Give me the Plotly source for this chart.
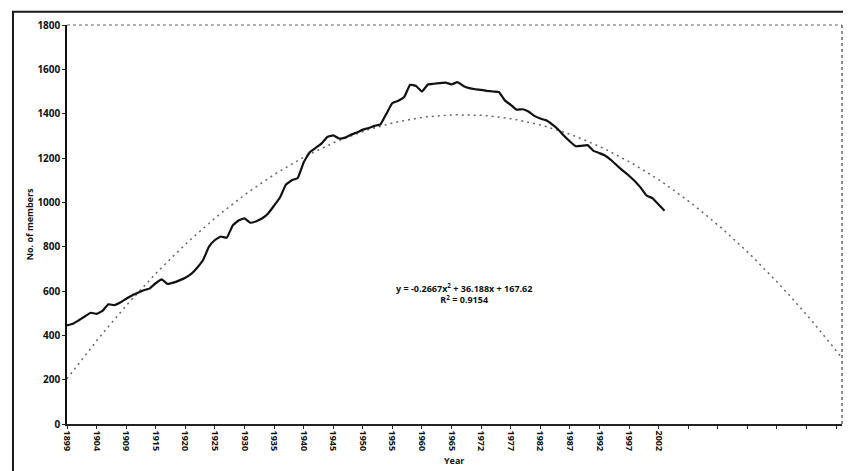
import plotly.graph_objects as go

# ---- data ----
years = ([str(y) for y in range(1899, 1910)] +
         [str(y) for y in range(1911, 1966)] +
         [str(y) for y in range(1968, 2004)])

members = [445, 452, 468, 485, 502, 497, 510, 540, 536, 548,
           565, 580, 592, 603, 612, 635, 652, 632, 638, 648,
           660, 677, 705, 740, 800, 830, 846, 840, 895, 918,
           928, 908, 915, 928, 950, 985, 1022, 1080, 1100, 1110,
           1180, 1225, 1245, 1265, 1295, 1302, 1288, 1292, 1305, 1315,
           1328, 1335, 1345, 1352, 1400, 1448, 1458, 1475, 1530, 1525,
           1500, 1532, 1535, 1538, 1540, 1532, 1542, 1525, 1515, 1510,
           1507, 1503, 1500, 1498, 1460, 1440, 1418, 1420, 1410, 1390,
           1378, 1370, 1352, 1330, 1300, 1275, 1253, 1255, 1258, 1232,
           1222, 1210, 1190, 1165, 1142, 1120, 1095, 1065, 1030, 1018,
           990, 962]

# polynomial trendline shown on the chart (Excel, x = category index)
trend_a, trend_b, trend_c = -0.2667, 36.188, 167.62
n_categories = 132
y_ticks = [0, 200, 400, 600, 800, 1000, 1200, 1400, 1600, 1800]

idx = list(range(1, len(members) + 1))
all_idx = list(range(1, n_categories + 1))
trend = [trend_a * i * i + trend_b * i + trend_c for i in all_idx]

label_pos = list(range(1, len(years), 5))
label_text = [years[i - 1] for i in label_pos]

FONT = "Open Sans"

fig = go.Figure()
fig.add_trace(go.Scatter(x=all_idx, y=trend, mode="lines",
                         line=dict(color="#666666", width=1.5, dash="2px,4px"),
                         hoverinfo="skip", showlegend=False))
fig.add_trace(go.Scatter(x=idx, y=members, mode="lines",
                         line=dict(color="#111111", width=2.2, shape="spline", smoothing=0.3),
                         showlegend=False))

# page body has an 8px margin, so the figure is offset by (8, 8)
fig.update_layout(
    width=843, height=463,
    margin=dict(l=59, r=9, t=15, b=47),
    paper_bgcolor="white", plot_bgcolor="white",
    font=dict(family=FONT, size=9, color="#111111"),
    xaxis=dict(range=[1, n_categories], tickmode="array", tickvals=label_pos,
               ticktext=label_text, tickangle=90, showgrid=False, zeroline=False,
               showline=True, linecolor="#222222", linewidth=1.5,
               ticks="outside", ticklen=3, tickcolor="#222222",
               minor=dict(ticks="outside", ticklen=3, tick0=1, dtick=5,
                          tickcolor="#222222", showgrid=False),
               tickfont=dict(family=FONT, size=9, color="#111111", weight="bold")),
    yaxis=dict(range=[0, 1800], tickmode="array", tickvals=y_ticks,
               showgrid=False, zeroline=False, showline=True,
               linecolor="#111111", linewidth=1.5, ticks="outside", ticklen=3,
               tickcolor="#222222",
               tickfont=dict(family=FONT, size=10, color="#111111", weight="bold")),
    shapes=[
        # plot-area top and right borders (dotted)
        dict(type="line", xref="paper", yref="paper", x0=0, x1=1, y0=1, y1=1,
             line=dict(color="#666666", width=1.2, dash="dot")),
        dict(type="line", xref="paper", yref="paper", x0=1, x1=1, y0=0, y1=1,
             line=dict(color="#666666", width=1.5, dash="dot")),
        # outer chart frame (bottom edge falls outside the picture)
        dict(type="rect", xref="paper", yref="paper", x0=-0.0697, x1=1.0077,
             y0=-0.2, y1=1.033, layer="above", fillcolor="rgba(0,0,0,0)",
             line=dict(color="#1a1a1a", width=2)),
    ],
    annotations=[
        dict(text="y = -0.2667x<sup>2</sup> + 36.188x + 167.62<br>R<sup>2</sup> = 0.9154",
             xref="paper", yref="paper", x=0.512, y=0.29, showarrow=False,
             align="center", font=dict(family=FONT, size=9, color="#111111", weight="bold")),
        dict(text="Year", xref="paper", yref="paper", x=0.499, y=-0.092,
             showarrow=False, yanchor="middle",
             font=dict(family=FONT, size=9, color="#111111", weight="bold")),
        dict(text="No. of members", xref="paper", yref="paper", x=-0.048, y=0.5,
             textangle=-90, showarrow=False, xanchor="center", yanchor="middle",
             font=dict(family=FONT, size=9, color="#111111", weight="bold")),
    ],
)

fig.write_html("out.html")
